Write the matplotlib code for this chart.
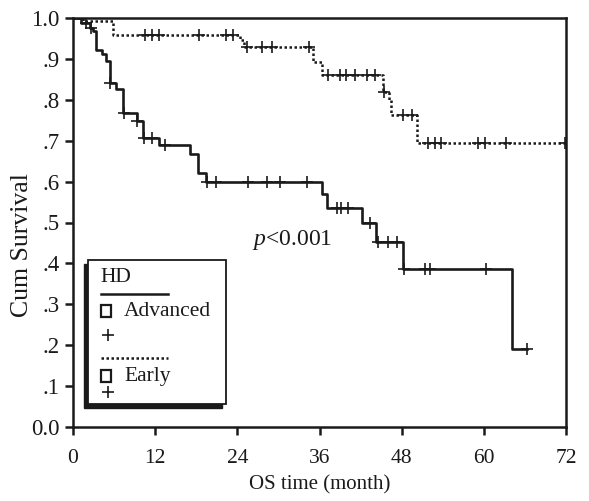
import numpy as np
import matplotlib
matplotlib.use("Agg")
import matplotlib.pyplot as plt
from matplotlib.patches import Rectangle
from matplotlib.lines import Line2D

plt.rcParams['font.family'] = ['Liberation Serif', 'DejaVu Serif']
plt.rcParams['mathtext.fontset'] = 'custom'
plt.rcParams['mathtext.it'] = 'Liberation Serif:italic'
plt.rcParams['mathtext.rm'] = 'Liberation Serif'

# Advanced HD: step times and survival after each step
adv_times = [0, 1.2, 2.5, 2.9, 3.4, 4.3, 4.8, 5.4, 6.3, 7.3, 9.4, 10.2, 12.5, 17.1, 18.3, 19.4,
             36.3, 37.1, 42.2, 44.3, 48.2, 64.1, 66.3]
adv_surv = [1.0, 0.987, 0.975, 0.967, 0.922, 0.912, 0.895, 0.842, 0.826, 0.768, 0.748, 0.707,
            0.689, 0.667, 0.622, 0.600, 0.570, 0.536, 0.498, 0.453, 0.386, 0.190, 0.190]
adv_cens = [1.9, 2.6, 5.4, 7.5, 9.4, 10.4, 11.6, 13.4, 19.6, 20.9, 25.5, 28.3, 30.2, 34.2,
            38.5, 39.2, 40.2, 43.4, 44.5, 46.0, 47.3, 48.3, 51.4, 52.1, 60.3, 66.3]

# Early HD
early_times = [0, 1.5, 5.9, 24.4, 25.0, 35.1, 36.3, 45.3, 46.1, 46.5, 50.2, 72.0]
early_surv = [1.0, 0.993, 0.958, 0.945, 0.928, 0.893, 0.861, 0.820, 0.800, 0.763, 0.695, 0.695]
early_cens = [10.5, 11.5, 12.5, 18.4, 22.4, 23.4, 25.4, 27.6, 29.0, 34.4, 37.3, 39.0, 39.8,
              41.2, 43.0, 44.1, 45.4, 48.2, 49.5, 51.9, 52.9, 53.8, 59.2, 60.2, 63.3, 71.9]

x_ticks = [0, 12, 24, 36, 48, 60, 72]
y_ticks = [0.0, 0.1, 0.2, 0.3, 0.4, 0.5, 0.6, 0.7, 0.8, 0.9, 1.0]
y_ticklabels = ['0.0', '.1', '.2', '.3', '.4', '.5', '.6', '.7', '.8', '.9', '1.0']


def surv_at(times, surv, t):
    i = np.searchsorted(times, t, side='right') - 1
    return np.asarray(surv)[i]


C = '#1a1a1a'
fig = plt.figure(figsize=(5.89, 5.01), dpi=100)
ax = fig.add_axes([73 / 589, 74 / 501, 493 / 589, 409 / 501])

FS = 15.5
ax.step(adv_times, adv_surv, where='post', color=C, lw=1.9)
ax.plot(adv_cens, surv_at(adv_times, adv_surv, adv_cens), ls='none', marker='+',
        ms=8, mew=1.2, color=C)
ax.step(early_times, early_surv, where='post', color=C, lw=1.8, ls=(0, (1, 1)))
ax.plot(early_cens, surv_at(early_times, early_surv, early_cens), ls='none', marker='+',
        ms=8, mew=1.2, color=C)

ax.set_xlim(0, 72)
ax.set_ylim(0, 1.0)
ax.set_xticks(x_ticks)
ax.set_xticklabels([str(v) for v in x_ticks], fontsize=FS)
ax.set_yticks(y_ticks)
ax.set_yticklabels(y_ticklabels, fontsize=16.5)
for s in ax.spines.values():
    s.set_linewidth(1.8)
    s.set_color(C)
ax.tick_params(direction='out', length=5.5, width=1.8, color=C, labelcolor=C)
ax.tick_params(axis='x', pad=10)
ax.tick_params(axis='y', pad=4)
ax.set_xlabel('OS time (month)', fontsize=15, color=C)
ax.set_ylabel('Cum Survival', fontsize=18.5, color=C)
ax.xaxis.set_label_coords(0.5, (427 - 475) / 409)
ax.yaxis.set_label_coords((33 - 73) / 493, (427 - 245) / 409)

ax.text((292 - 73) / 493, (427 - 245) / 409, r'$p$<0.001', transform=ax.transAxes,
        fontsize=17, ha='center', va='baseline', color=C)


def axc(px, py):
    return ((px - 73) / 493, (427 - py) / 409)


# legend box with shadow to lower-left
x0, y0 = axc(88, 404)
x1, y1 = axc(226, 260)
sx, sy = 4 / 493, 4 / 409
ax.add_patch(Rectangle((x0 - sx, y0 - sy), x1 - x0, y1 - y0, transform=ax.transAxes,
                       facecolor=C, edgecolor=C, zorder=5, clip_on=False))
ax.add_patch(Rectangle((x0, y0), x1 - x0, y1 - y0, transform=ax.transAxes,
                       facecolor='white', edgecolor=C, lw=1.3, zorder=6, clip_on=False))
tx, ty = axc(100, 278)
ax.text(tx, ty, 'HD', transform=ax.transAxes, fontsize=FS, va='center', ha='left', zorder=7,
        color=C)
la, lb = axc(101, 293.5)
lc, _ = axc(168, 293.5)
ax.add_line(Line2D([la, lc], [lb, lb], transform=ax.transAxes, color=C, lw=1.8, zorder=7))
la, lb = axc(101, 357.5)
ax.add_line(Line2D([la, lc], [lb, lb], transform=ax.transAxes, color=C, lw=1.8,
                   ls=(0, (1, 1)), zorder=7))
for py, lab in [(311, 'Advanced'), (376, 'Early')]:
    qx, qy = axc(100.5, py + 6)
    ax.add_patch(Rectangle((qx, qy), 10.5 / 493, 12 / 409, transform=ax.transAxes,
                           facecolor='white', edgecolor=C, lw=1.6, zorder=7))
    lx, ly = axc(124, py)
    ax.text(lx, ly, lab, transform=ax.transAxes, fontsize=FS, va='center', ha='left', zorder=7,
            color=C)
for py in [335, 392]:
    px_, py_ = axc(108, py)
    ax.plot([px_], [py_], marker='+', ms=8, mew=1.2, color=C, transform=ax.transAxes,
            zorder=7, clip_on=False)

fig.savefig('out.png', dpi=100)
